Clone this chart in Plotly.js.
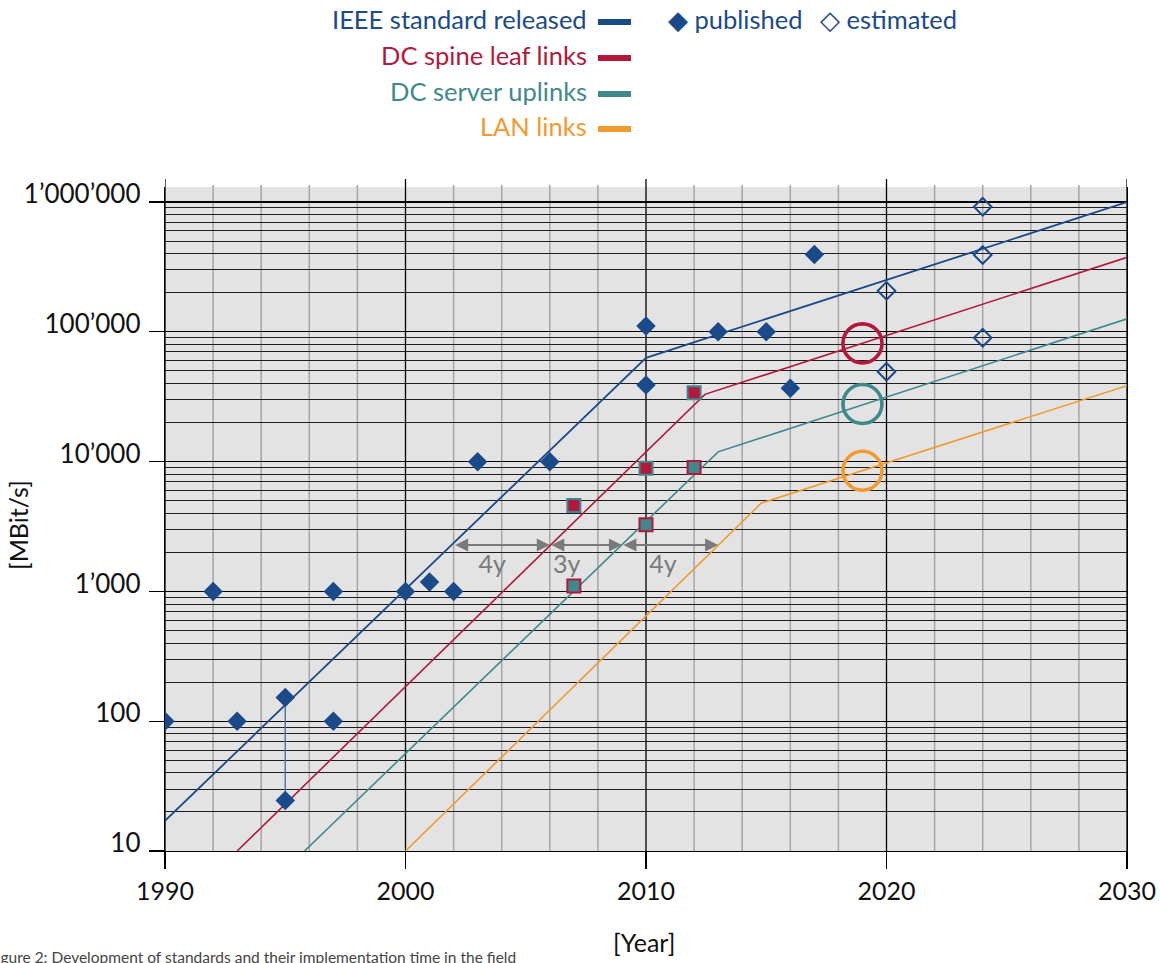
<!DOCTYPE html>
<html>
<head>
<meta charset="utf-8">
<script src="https://cdn.plot.ly/plotly-3.0.1.min.js"></script>
<style>html,body{margin:0;padding:0;background:#fff;}#chart{width:1160px;height:963px;}</style>
</head>
<body>
<div id="chart"></div>
<script>
// ---------- data ----------
const pubYears   = [1990, 1992, 1993, 1995, 1995, 1997, 1997, 2000, 2001, 2002, 2003, 2006, 2010, 2010, 2013, 2015, 2016, 2017];
const pubRates   = [100, 1000, 100, 152, 24.5, 1000, 100, 1000, 1180, 1000, 10000, 10000, 111000, 39000, 100000, 100000, 36700, 395000];
const estYears   = [2020, 2020, 2024, 2024, 2024];
const estRates   = [207000, 49300, 920000, 391000, 90000];
const spineYears = [2007, 2010, 2012];
const spineRates = [4600, 8900, 34000];
const serverYears = [2007, 2010, 2012];
const serverRates = [1100, 3270, 9000];
const span1995Years = [1995, 1995];
const span1995Rates = [24.5, 152];

const ieeeTrendYears   = [1990, 2010, 2030];
const ieeeTrendRates   = [17.1, 63000, 1000000];
const spineTrendYears  = [1993, 2012.45, 2030];
const spineTrendRates  = [10, 33000, 375000];
const serverTrendYears = [1995.8, 2013, 2030];
const serverTrendRates = [10, 11900, 126000];
const lanTrendYears    = [2000, 2014.8, 2030];
const lanTrendRates    = [10, 4800, 38500];

const targetYear  = [2019];
const spineTarget = [81500];
const serverTarget = [27800];
const lanTarget   = [8500];

const gapStart  = [2002, 2006, 2009];
const gapEnd    = [2006, 2009, 2013];
const gapLevel  = 2275;
const gapLabelYears = [2003.6, 2006.7, 2010.7];
const gapLabelRate  = 1550;
const gapLabels = ['4y', '3y', '4y'];

const xTicks = [1990, 2000, 2010, 2020, 2030];
const yTickVals = [10, 100, 1000, 10000, 100000, 1000000];
const yTickText = ['10', '100', '1\u2019000', '10\u2019000', '100\u2019000', '1\u2019000\u2019000'];

const legendNames = ['IEEE standard released', 'DC spine leaf links', 'DC server uplinks', 'LAN links'];

// ---------- style ----------
const BLUE = '#1b4a8b', RED = '#b3183c', TEAL = '#3f898d', ORANGE = '#f29a2e';
const legendColors = [BLUE, RED, TEAL, ORANGE];
const FONT = 'Lato, "Open Sans", sans-serif';

// plot area geometry (pixels)
const L = 165, R = 33, T = 187, B = 112, W = 1160, H = 963;
const PW = W - L - R, PH = H - T - B;
const px = v => (v - L) / PW;
const py = v => (H - B - v) / PH;

const minorY = [];
yTickVals.forEach(d => { for (let k = 2; k <= 9; k++) minorY.push(d * k); });
const minorX = [];
for (let yr = xTicks[0]; yr <= xTicks[xTicks.length - 1]; yr += 2) if (xTicks.indexOf(yr) < 0) minorX.push(yr);

const traces = [];
function trend(x, y, c, w) {
  traces.push({x: x, y: y, type: 'scatter', mode: 'lines', line: {color: c, width: w}, hoverinfo: 'skip', showlegend: false});
}
trend(ieeeTrendYears, ieeeTrendRates, BLUE, 1.8);
trend(spineTrendYears, spineTrendRates, RED, 1.6);
trend(serverTrendYears, serverTrendRates, TEAL, 1.6);
trend(lanTrendYears, lanTrendRates, ORANGE, 1.6);
trend(span1995Years, span1995Rates, '#4a6fa8', 1.4);

function ring(y, c) {
  traces.push({x: targetYear, y: y, type: 'scatter', mode: 'markers', showlegend: false,
    marker: {symbol: 'circle-open', size: 39, color: c, line: {color: c, width: 3.6}}});
}
ring(spineTarget, RED);
ring(serverTarget, TEAL);
ring(lanTarget, ORANGE);

traces.push({x: spineYears, y: spineRates, type: 'scatter', mode: 'markers', showlegend: false,
  marker: {symbol: 'square', size: 13, color: RED, line: {color: TEAL, width: 2}}});
traces.push({x: serverYears, y: serverRates, type: 'scatter', mode: 'markers', showlegend: false,
  marker: {symbol: 'square', size: 13, color: TEAL, line: {color: RED, width: 2}}});
traces.push({x: pubYears, y: pubRates, type: 'scatter', mode: 'markers', showlegend: false,
  marker: {symbol: 'diamond', size: 15, color: BLUE, line: {width: 0}}});
traces.push({x: estYears, y: estRates, type: 'scatter', mode: 'markers', showlegend: false,
  marker: {symbol: 'diamond-open', size: 13.5, color: BLUE, line: {color: BLUE, width: 2}}});
traces.push({x: gapLabelYears, y: gapLabelYears.map(() => gapLabelRate), type: 'scatter', mode: 'text',
  text: gapLabels, textposition: 'middle center', showlegend: false, hoverinfo: 'skip',
  textfont: {family: FONT, size: 25, color: '#7a7a7a'}});

const annotations = [];
const shapes = [];

// minor vertical grid every two years (drawn below traces)
minorX.forEach(x => {
  shapes.push({type: 'line', layer: 'below', xref: 'x', yref: 'paper', x0: x, x1: x, y0: 0, y1: 1 + 2 / PH,
    line: {color: '#a5a5a5', width: 1.5}});
});
// decade lines extending above the plot
xTicks.forEach(x => {
  shapes.push({type: 'line', layer: 'below', xref: 'x', yref: 'paper', x0: x, x1: x, y0: 0, y1: 1 + 8 / PH,
    line: {color: '#000', width: 1.3}});
});

// gap arrows
gapStart.forEach((s, i) => {
  annotations.push({x: gapEnd[i], y: Math.log10(gapLevel), ax: s, ay: Math.log10(gapLevel),
    xref: 'x', yref: 'y', axref: 'x', ayref: 'y', text: '', showarrow: true,
    arrowside: 'end+start', arrowhead: 2, startarrowhead: 2, arrowsize: 1.3, startarrowsize: 1.3,
    arrowwidth: 2, arrowcolor: '#7a7a7a', standoff: 0, startstandoff: 0});
});

// custom legend
const rowsY = [19, 55, 91, 126];
legendNames.forEach((n, i) => {
  annotations.push({xref: 'paper', yref: 'paper', x: px(589), y: py(rowsY[i]), xanchor: 'right', yanchor: 'middle',
    text: n, showarrow: false, font: {family: FONT, size: 25.5, color: legendColors[i]}});
  shapes.push({type: 'rect', xref: 'paper', yref: 'paper', x0: px(598), x1: px(631),
    y0: py(rowsY[i] + 6), y1: py(rowsY[i]), fillcolor: legendColors[i], line: {width: 0}});
});
annotations.push({xref: 'paper', yref: 'paper', x: px(666), y: py(19), xanchor: 'left', yanchor: 'middle',
  text: '\u25C6 published', showarrow: false, font: {family: FONT, size: 25.5, color: BLUE}});
annotations.push({xref: 'paper', yref: 'paper', x: px(818), y: py(19), xanchor: 'left', yanchor: 'middle',
  text: '\u25C7 estimated', showarrow: false, font: {family: FONT, size: 25.5, color: BLUE}});

// axis titles
annotations.push({xref: 'paper', yref: 'paper', x: px(644), y: py(942), xanchor: 'center', yanchor: 'middle',
  text: '[Year]', showarrow: false, font: {family: FONT, size: 25, color: '#111'}});
annotations.push({xref: 'paper', yref: 'paper', x: px(18), y: py(525), xanchor: 'center', yanchor: 'middle',
  text: '[MBit/s]', textangle: -90, showarrow: false, font: {family: FONT, size: 25, color: '#111'}});
// caption
annotations.push({xref: 'paper', yref: 'paper', x: px(-14), y: py(957), xanchor: 'left', yanchor: 'middle',
  text: 'Figure 2: Development of standards and their implementation time in the field', showarrow: false,
  font: {family: FONT, size: 15.5, color: '#444'}});

const layout = {
  width: W, height: H,
  margin: {l: L, r: R, t: T, b: B, pad: 0},
  paper_bgcolor: '#ffffff', plot_bgcolor: '#e3e3e3',
  showlegend: false,
  xaxis: {
    range: [1990, 2030], tickmode: 'array', tickvals: xTicks, ticktext: xTicks.map(String),
    ticks: 'outside', ticklen: 17, tickwidth: 1.3, tickcolor: '#000',
    showgrid: false,
    showline: true, linecolor: '#000', linewidth: 1.3, zeroline: false, mirror: false,
    tickfont: {family: FONT, size: 25, color: '#111'}, ticklabelstandoff: 1
  },
  yaxis: {
    type: 'log', range: [1, 6.116], tickmode: 'array', tickvals: yTickVals, ticktext: yTickText,
    ticks: 'outside', ticklen: 15, tickwidth: 1.3, tickcolor: '#000',
    showgrid: true, gridcolor: '#000', gridwidth: 1.2,
    showline: true, linecolor: '#000', linewidth: 1.3, zeroline: false, mirror: true,
    tickfont: {family: FONT, size: 26, color: '#111'}, ticklabelstandoff: 3, ticklabelshift: -8,
    minor: {tickmode: 'array', tickvals: minorY, showgrid: true, gridcolor: '#1e1e1e', gridwidth: 1, ticks: ''}
  },
  annotations: annotations,
  shapes: shapes
};

Plotly.newPlot('chart', traces, layout, {displayModeBar: false, staticPlot: true});
</script>
</body>
</html>
